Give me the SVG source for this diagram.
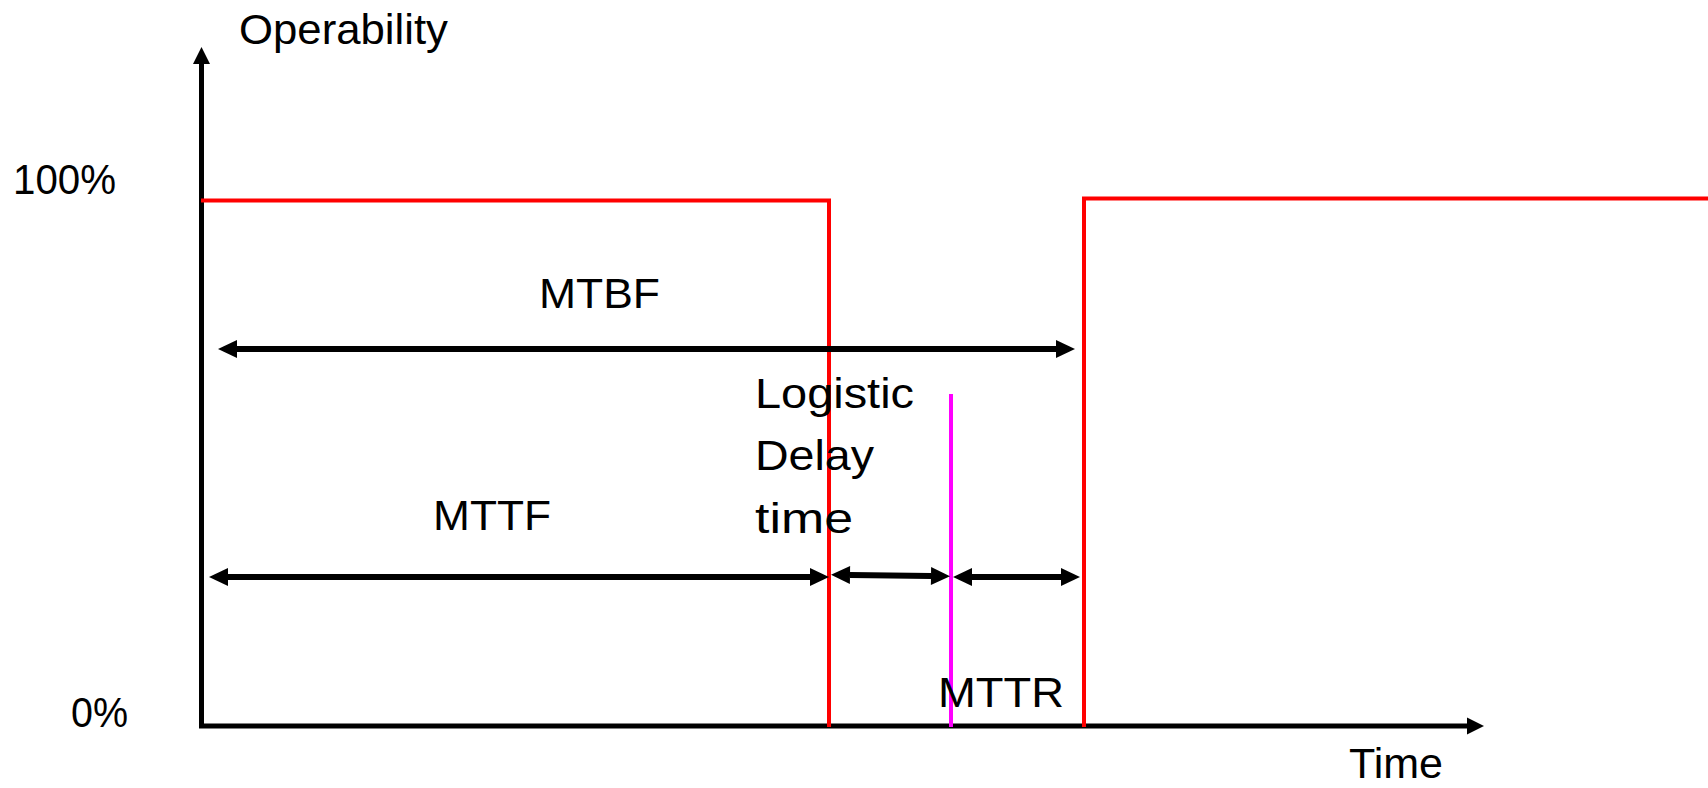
<svg xmlns="http://www.w3.org/2000/svg" width="1708" height="788" viewBox="0 0 1708 788">
<defs>
<style>
.t{font-family:"Liberation Sans",Arial,sans-serif;font-size:42px;fill:#000}
.ax{stroke:#000;stroke-width:5;fill:none}
.dim{stroke:#000;stroke-width:6;fill:none;marker-start:url(#ah);marker-end:url(#ah)}
.red{stroke:#ff0000;stroke-width:4;fill:none}
</style>
<marker id="ah" markerUnits="userSpaceOnUse" markerWidth="20" markerHeight="18" refX="0" refY="9" orient="auto-start-reverse" overflow="visible">
<path d="M0,0 L19,9 L0,18 z" fill="#000"/>
</marker>
<marker id="axh" markerUnits="userSpaceOnUse" markerWidth="17" markerHeight="17" refX="0" refY="8.5" orient="auto" overflow="visible">
<path d="M0,0 L17,8.5 L0,17 z" fill="#000"/>
</marker>
</defs>
<rect width="1708" height="788" fill="#fff"/>
<g id="axes">
<path class="ax" d="M201.5,726 V64" marker-end="url(#axh)"/>
<path class="ax" d="M199,726 H1467" marker-end="url(#axh)"/>
</g>
<g id="signal">
<path class="red" d="M201,200.5 H829 V727"/>
<path class="red" d="M1084,727 V198.5 H1708"/>
<line x1="951" y1="394" x2="951" y2="727" stroke="#ff00ff" stroke-width="4"/>
</g>
<g id="connectors">
<line class="dim" x1="237" y1="349" x2="1056" y2="349"/>
<line class="dim" x1="228" y1="577" x2="810" y2="577"/>
<line class="dim" x1="850" y1="575" x2="931" y2="576"/>
<line class="dim" x1="972" y1="577" x2="1061" y2="577"/>
</g>
<g id="labels">
<text class="t" x="239" y="44" textLength="209" lengthAdjust="spacingAndGlyphs">Operability</text>
<text class="t" x="13" y="194" textLength="103" lengthAdjust="spacingAndGlyphs">100%</text>
<text class="t" x="71" y="727" textLength="57" lengthAdjust="spacingAndGlyphs">0%</text>
<text class="t" x="1349" y="778" textLength="94" lengthAdjust="spacingAndGlyphs">Time</text>
</g>
<g id="mtbf"><text class="t" x="539" y="308" textLength="121" lengthAdjust="spacingAndGlyphs">MTBF</text></g>
<g id="mttf"><text class="t" x="433" y="530" textLength="118" lengthAdjust="spacingAndGlyphs">MTTF</text></g>
<g id="logistic">
<text class="t" x="755" y="408" textLength="159" lengthAdjust="spacingAndGlyphs">Logistic</text>
<text class="t" x="755" y="470" textLength="119" lengthAdjust="spacingAndGlyphs">Delay</text>
<text class="t" x="755" y="533" textLength="98" lengthAdjust="spacingAndGlyphs">time</text>
</g>
<g id="mttr"><text class="t" x="938" y="707" textLength="126" lengthAdjust="spacingAndGlyphs">MTTR</text></g>
</svg>
